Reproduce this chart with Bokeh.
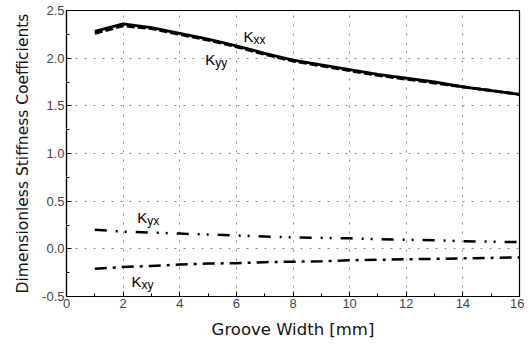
from bokeh.plotting import figure
from bokeh.models import FixedTicker, Range1d, Label
from bokeh.embed import file_html
from bokeh.resources import INLINE

groove_width = [1, 2, 3, 4, 5, 6, 7, 8, 9, 10, 11, 12, 13, 14, 15, 16]
k_xx = [2.28, 2.36, 2.32, 2.26, 2.20, 2.13, 2.05, 1.98, 1.93, 1.88, 1.83, 1.79, 1.75, 1.70, 1.66, 1.62]
k_yy = [2.26, 2.34, 2.31, 2.25, 2.19, 2.12, 2.04, 1.97, 1.92, 1.87, 1.82, 1.78, 1.74, 1.70, 1.66, 1.62]
k_yx = [0.20, 0.18, 0.17, 0.16, 0.15, 0.14, 0.13, 0.12, 0.115, 0.11, 0.10, 0.095, 0.09, 0.08, 0.075, 0.07]
k_xy = [-0.21, -0.19, -0.18, -0.165, -0.155, -0.15, -0.14, -0.135, -0.13, -0.12, -0.115, -0.11, -0.105, -0.10, -0.095, -0.09]
x_ticks = [0, 2, 4, 6, 8, 10, 12, 14, 16]
y_ticks = [-0.5, 0.0, 0.5, 1.0, 1.5, 2.0, 2.5]
y_tick_labels = {-0.5: "-0.5", 0.0: "0.0", 0.5: "0.5", 1.0: "1.0", 1.5: "1.5", 2.0: "2.0", 2.5: "2.5"}

FONT = "Liberation Sans"
LABEL_FONT = "DejaVu Sans"

p = figure(width=524, height=342, output_backend="svg", toolbar_location=None,
           x_range=Range1d(0, 16), y_range=Range1d(-0.5, 2.5),
           min_border_left=66, min_border_right=5, min_border_top=10, min_border_bottom=46)
p.outline_line_color = "black"
p.outline_line_width = 1.2
p.background_fill_color = "white"
p.border_fill_color = "white"

for ax in p.xaxis:
    ax.ticker = FixedTicker(ticks=x_ticks, minor_ticks=list(range(0, 17)))
for ax in p.yaxis:
    ax.ticker = FixedTicker(ticks=y_ticks, minor_ticks=[-0.5 + 0.25 * i for i in range(13)])
    ax.major_label_overrides = y_tick_labels

for ax in list(p.xaxis) + list(p.yaxis):
    ax.axis_line_color = "black"
    ax.axis_line_width = 1.2
    ax.major_tick_in = 5
    ax.major_tick_out = 0
    ax.minor_tick_in = 3
    ax.minor_tick_out = 0
    ax.major_label_text_font = FONT
    ax.major_label_text_font_size = "13px"
    ax.major_label_text_color = "#444444"
    ax.axis_label_text_font = LABEL_FONT
    ax.axis_label_text_font_style = "normal"
    ax.axis_label_text_color = "#111111"

p.xaxis.axis_label = "Groove Width [mm]"
p.yaxis.axis_label = "Dimensionless Stiffness Coefficients"
p.xaxis.axis_label_text_font_size = "16.5px"
p.yaxis.axis_label_text_font_size = "15.5px"
p.xaxis.major_label_standoff = 2
p.yaxis.major_label_standoff = 2
p.xaxis.axis_label_standoff = 9
p.yaxis.axis_label_standoff = 7

p.xgrid.ticker = FixedTicker(ticks=x_ticks)
p.ygrid.ticker = FixedTicker(ticks=y_ticks)
for g in list(p.xgrid) + list(p.ygrid):
    g.grid_line_color = "#888888"
    g.grid_line_dash = "2 7"
    g.grid_line_width = 1

p.line(groove_width, k_yy, line_color="black", line_width=3, line_dash="8 3")
p.line(groove_width, k_xx, line_color="black", line_width=2.8)
p.line(groove_width, k_yx, line_color="black", line_width=2.5, line_dash="12 9 2 7 2 9")
p.line(groove_width, k_xy, line_color="black", line_width=2.5, line_dash="12 6 3 6")

def sublabel(x, y, sub):
    p.add_layout(Label(x=x, y=y, text="K", text_font=FONT, text_font_size="15px",
                       text_color="black", text_baseline="top"))
    p.add_layout(Label(x=x, y=y, x_offset=10, y_offset=-5, text=sub, text_font=FONT,
                       text_font_size="12px", text_color="black", text_baseline="top"))

sublabel(6.25, 2.32, "xx")
sublabel(4.9, 2.07, "yy")
sublabel(2.5, 0.42, "yx")
sublabel(2.3, -0.25, "xy")

open("out.html", "w").write(file_html(p, INLINE))
